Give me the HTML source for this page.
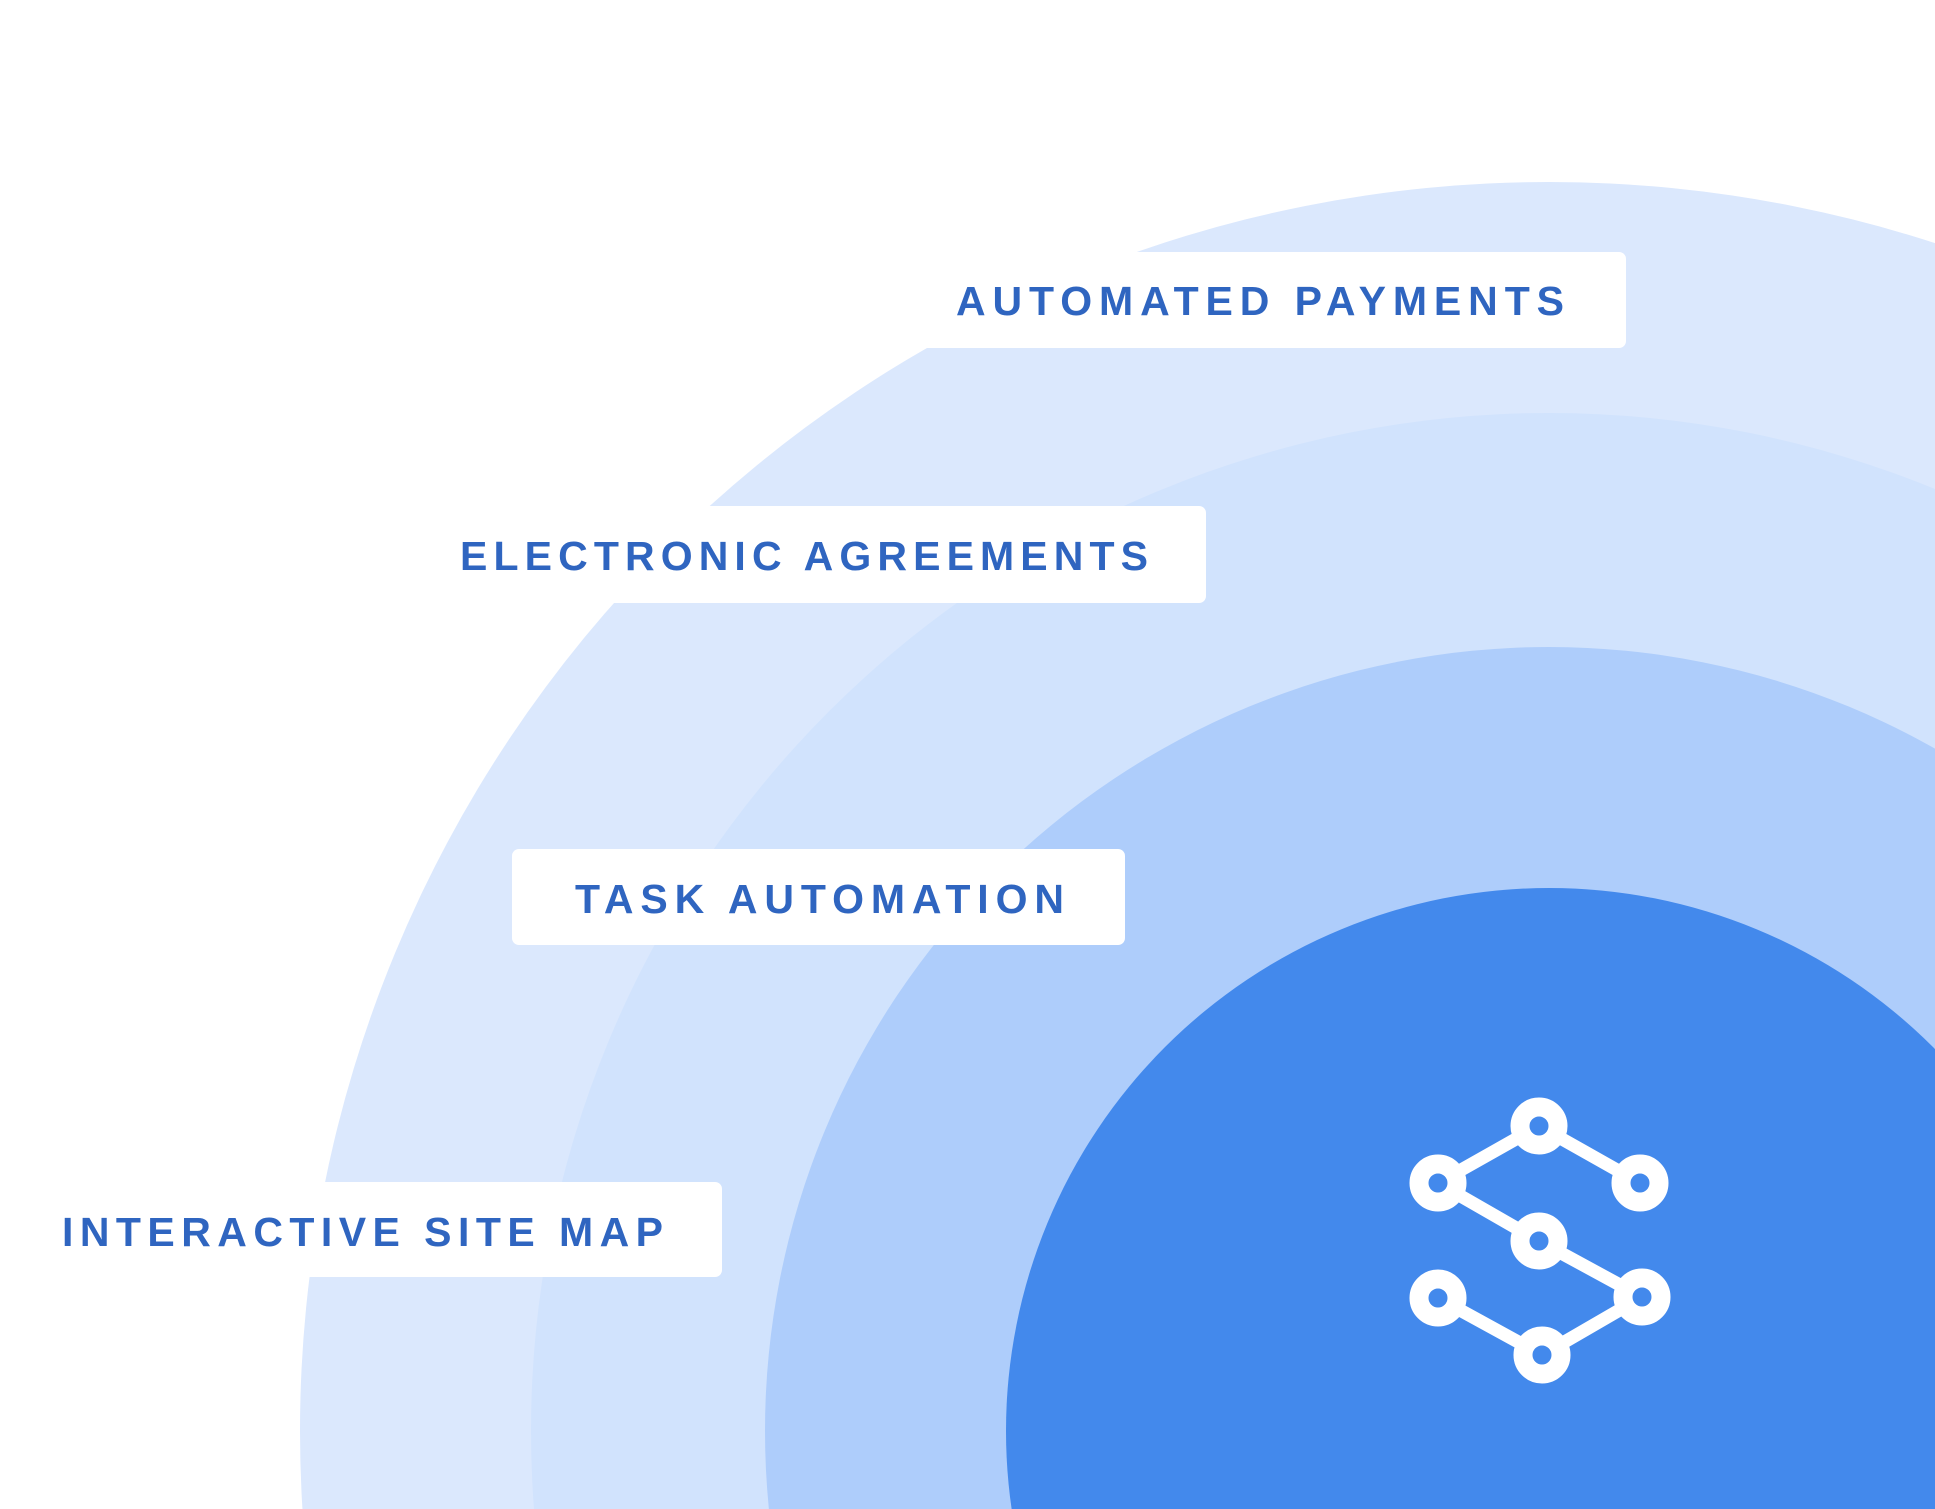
<!DOCTYPE html>
<html><head><meta charset="utf-8"><style>
html,body{margin:0;padding:0;background:#fff;width:1935px;height:1509px;overflow:hidden;}
svg{display:block;}
</style></head><body>
<svg width="1935" height="1509" viewBox="0 0 1935 1509" xmlns="http://www.w3.org/2000/svg">
<rect width="1935" height="1509" fill="#ffffff"/>
<circle cx="1549" cy="1431" r="1249" fill="#dbe8fd"/>
<circle cx="1549" cy="1431" r="1018" fill="#d1e3fd"/>
<circle cx="1549" cy="1431" r="784" fill="#aecdfb"/>
<circle cx="1549" cy="1431" r="543" fill="#4389ec"/>

<g fill="#ffffff">
<rect x="913" y="252" width="713" height="96" rx="7"/>
<rect x="395" y="506" width="811" height="97" rx="7"/>
<rect x="512" y="849" width="613" height="96" rx="7"/>
<rect x="-10" y="1182" width="732" height="95" rx="7"/>
</g>
<g fill="#2f65c0" font-family="Liberation Sans, sans-serif" font-weight="bold" font-size="41">
<text x="956" y="315" textLength="608" lengthAdjust="spacing">AUTOMATED PAYMENTS</text>
<text x="460" y="570" textLength="688" lengthAdjust="spacing">ELECTRONIC AGREEMENTS</text>
<text x="575" y="913" textLength="489" lengthAdjust="spacing">TASK AUTOMATION</text>
<text x="62" y="1246" textLength="601" lengthAdjust="spacing">INTERACTIVE SITE MAP</text>
</g>

<g stroke="#ffffff" stroke-width="13" fill="none" stroke-linecap="round">
<line x1="1539" y1="1126" x2="1438" y2="1183"/>
<line x1="1539" y1="1126" x2="1640" y2="1183"/>
<line x1="1438" y1="1183" x2="1539" y2="1241"/>
<line x1="1539" y1="1241" x2="1642" y2="1297"/>
<line x1="1438" y1="1298" x2="1542" y2="1355"/>
<line x1="1642" y1="1297" x2="1542" y2="1355"/>
</g>
<g fill="#4389ec" stroke="#ffffff" stroke-width="19">
<circle cx="1539" cy="1126" r="19"/>
<circle cx="1438" cy="1183" r="19"/>
<circle cx="1640" cy="1183" r="19"/>
<circle cx="1539" cy="1241" r="19"/>
<circle cx="1438" cy="1298" r="19"/>
<circle cx="1642" cy="1297" r="19"/>
<circle cx="1542" cy="1355" r="19"/>
</g>
</svg>
</body></html>
